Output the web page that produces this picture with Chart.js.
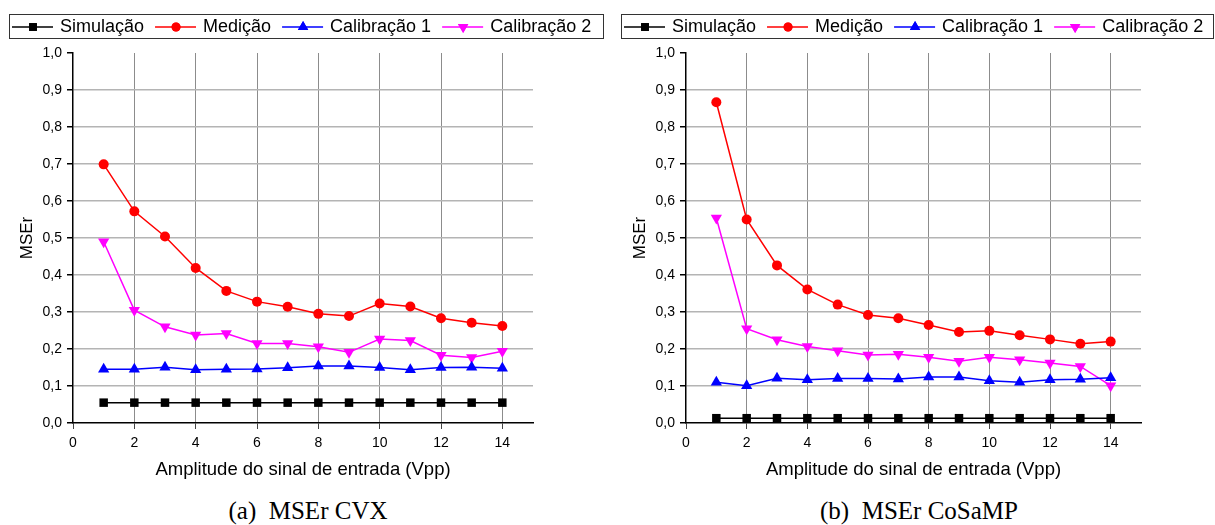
<!DOCTYPE html>
<html>
<head>
<meta charset="utf-8">
<script src="https://cdn.jsdelivr.net/npm/chart.js@4.4.1/dist/chart.umd.min.js"></script>
<style>
  body { margin: 0; background: #fff; }
  #page { position: relative; width: 1215px; height: 525px; overflow: hidden; }
  .box { position: absolute; top: 0; height: 485px; }
  .cap { position: absolute; top: 495px; font-family: "Liberation Serif", "Times New Roman", serif;
         font-size: 25px; line-height: 32px; white-space: pre; text-align: center; width: 400px; }
</style>
</head>
<body>
<div id="page">
  <div class="box" style="left:0px;width:607px"><canvas id="chartA"></canvas></div>
  <div class="box" style="left:613px;width:602px"><canvas id="chartB"></canvas></div>
  <div class="cap" style="left:108px">(a)  MSEr CVX</div>
  <div class="cap" style="left:719px">(b)  MSEr CoSaMP</div>
</div>
<script>
// amplitude do sinal (Vpp)
const amplitudes = [1, 2, 3, 4, 5, 6, 7, 8, 9, 10, 11, 12, 13, 14];
const seriesNames = ['Simulação', 'Medição', 'Calibração 1', 'Calibração 2'];

// (a) CVX
const cvxSim  = [0.055, 0.055, 0.055, 0.055, 0.055, 0.055, 0.055, 0.055, 0.055, 0.055, 0.055, 0.055, 0.055, 0.055];
const cvxMed  = [0.699, 0.572, 0.504, 0.419, 0.357, 0.328, 0.314, 0.295, 0.289, 0.323, 0.315, 0.283, 0.271, 0.262];
const cvxCal1 = [0.145, 0.145, 0.151, 0.144, 0.145, 0.146, 0.149, 0.154, 0.154, 0.150, 0.144, 0.150, 0.151, 0.148];
const cvxCal2 = [0.490, 0.305, 0.260, 0.238, 0.242, 0.215, 0.215, 0.206, 0.191, 0.227, 0.223, 0.183, 0.177, 0.194];

// (b) CoSaMP
const cosSim  = [0.013, 0.013, 0.013, 0.013, 0.013, 0.013, 0.013, 0.013, 0.013, 0.013, 0.013, 0.013, 0.013, 0.013];
const cosMed  = [0.867, 0.550, 0.426, 0.361, 0.320, 0.292, 0.283, 0.265, 0.246, 0.249, 0.237, 0.226, 0.214, 0.220];
const cosCal1 = [0.110, 0.101, 0.121, 0.117, 0.120, 0.120, 0.119, 0.124, 0.124, 0.114, 0.110, 0.117, 0.118, 0.122];
const cosCal2 = [0.554, 0.255, 0.225, 0.207, 0.195, 0.184, 0.186, 0.178, 0.167, 0.178, 0.171, 0.162, 0.153, 0.101];

const styles = [
  { color: '#000000', point: 'rect', radius: 6, rot: 0 },
  { color: '#ff0000', point: 'circle', radius: 5, rot: 0 },
  { color: '#0000ff', point: 'triangle', radius: 6.5, rot: 0 },
  { color: '#ff00ff', point: 'triangle', radius: 6.5, rot: 180 }
];

const font = 'Liberation Sans, Arial, sans-serif';

function pts(vals) {
  return amplitudes.map((a, i) => ({ x: a, y: vals[i] }));
}

// legend drawn as a framed box above the plot
const boxLegend = {
  id: 'boxLegend',
  afterDraw(chart, args, opts) {
    const ctx = chart.ctx;
    ctx.save();
    ctx.strokeStyle = '#333';
    ctx.lineWidth = 1;
    ctx.strokeRect(opts.left + 0.5, opts.top + 0.5, opts.width, opts.height);
    ctx.font = '18px ' + font;
    ctx.textBaseline = 'middle';
    const cy = opts.top + opts.height / 2 + 1;
    let x = opts.left + 3;
    seriesNames.forEach((name, i) => {
      const s = styles[i];
      ctx.strokeStyle = s.color;
      ctx.lineWidth = 1.5;
      ctx.beginPath();
      ctx.moveTo(x, cy);
      ctx.lineTo(x + 41, cy);
      ctx.stroke();
      ctx.fillStyle = s.color;
      Chart.helpers.drawPoint(ctx, { pointStyle: s.point, radius: s.radius - 0.5, rotation: s.rot, borderWidth: 0 }, x + 21, cy);
      ctx.fill();
      ctx.fillStyle = '#000';
      ctx.fillText(name, x + 48, cy);
      x += 48 + ctx.measureText(name).width + opts.gap;
    });
    ctx.restore();
  }
};

function makeChart(id, data, legendLeft, legendWidth) {
  const datasets = data.map((vals, i) => ({
    label: seriesNames[i],
    data: pts(vals),
    borderColor: styles[i].color,
    backgroundColor: styles[i].color,
    borderWidth: 1.5,
    pointStyle: styles[i].point,
    pointRadius: styles[i].radius,
    pointRotation: styles[i].rot,
    pointBorderWidth: 0,
    tension: 0
  }));
  return new Chart(document.getElementById(id), {
    type: 'line',
    data: { datasets: datasets },
    plugins: [boxLegend],
    options: {
      responsive: true,
      maintainAspectRatio: false,
      animation: false,
      layout: { padding: { top: 53, left: 14, right: 74, bottom: 0 } },
      plugins: {
        legend: { display: false },
        tooltip: { enabled: false },
        boxLegend: { left: legendLeft, top: 14, width: legendWidth, height: 24, gap: 11 }
      },
      scales: {
        x: {
          type: 'linear',
          min: 0,
          max: 15,
          afterBuildTicks: (s) => { s.ticks = [0, 2, 4, 6, 8, 10, 12, 14].map(v => ({ value: v })); },
          afterFit: (s) => { s.height = 62; },
          ticks: { stepSize: 2, color: '#000', font: { family: font, size: 14 }, padding: 6, maxRotation: 0 },
          grid: {
            color: (c) => c.tick && c.tick.value === 0 ? 'rgba(0,0,0,0)' : '#8c8c8c',
            lineWidth: 1,
            tickColor: '#444',
            tickLength: 6
          },
          border: { color: '#000', width: 1.5 },
          title: { display: true, text: 'Amplitude do sinal de entrada (Vpp)', color: '#000',
                   font: { family: font, size: 18.5 }, padding: { top: 0, bottom: 4 } }
        },
        y: {
          min: 0,
          max: 1,
          afterFit: (s) => { s.width = 59; },
          ticks: { stepSize: 0.1, color: '#000', font: { family: font, size: 14 }, padding: 5,
                   callback: (v) => v.toFixed(1).replace('.', ',') },
          grid: {
            color: (c) => c.tick && (c.tick.value === 0 || c.tick.value === 1) ? 'rgba(0,0,0,0)' : '#b4b4b4',
            lineWidth: 1.5,
            tickColor: '#000',
            tickLength: 6
          },
          border: { color: '#000', width: 1.5 },
          title: { display: true, text: 'MSEr', color: '#000', font: { family: font, size: 17 }, padding: 3 }
        }
      }
    }
  });
}

makeChart('chartA', [cvxSim, cvxMed, cvxCal1, cvxCal2], 9, 594);
makeChart('chartB', [cosSim, cosMed, cosCal1, cosCal2], 8, 592);
</script>
</body>
</html>
